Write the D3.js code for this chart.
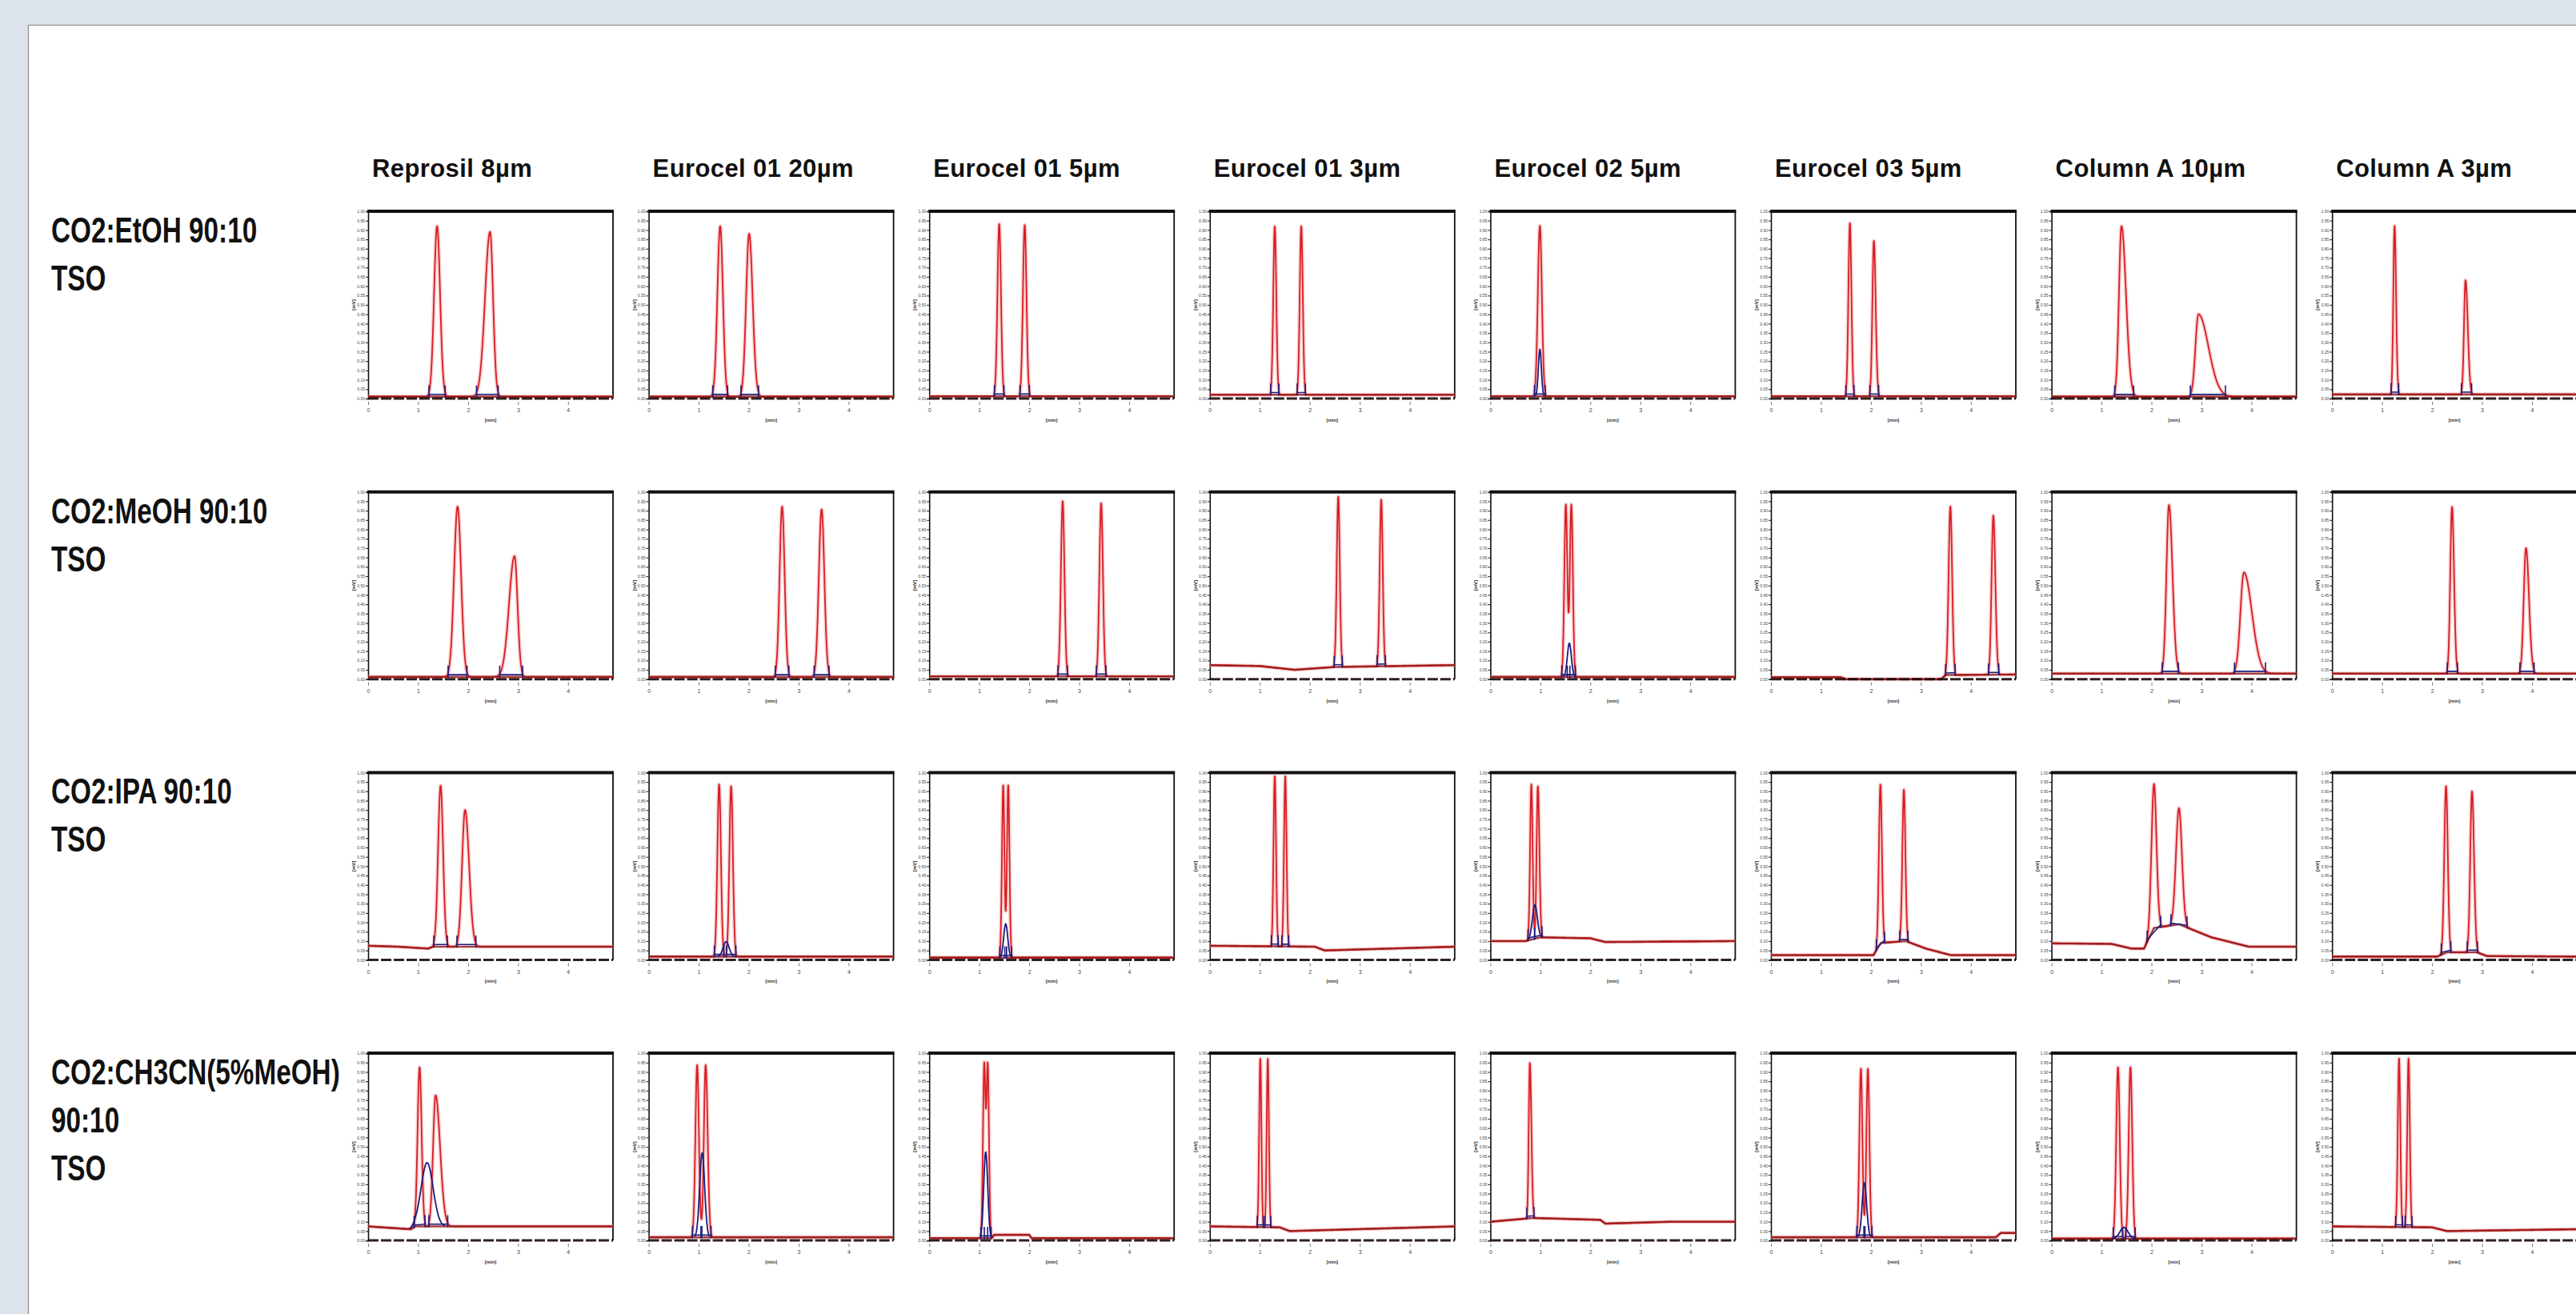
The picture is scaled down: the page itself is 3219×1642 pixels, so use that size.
<!DOCTYPE html>
<html><head><meta charset="utf-8">
<script src="https://cdn.jsdelivr.net/npm/d3@7"></script>
<style>html,body{margin:0;padding:0;overflow:hidden;background:#dde3ea;}</style>
</head><body>
<svg id="chart" width="3219" height="1642"></svg>
<script>
// ---------------- DATA ----------------
const columns = ["Reprosil 8µm","Eurocel 01 20µm","Eurocel 01 5µm","Eurocel 01 3µm","Eurocel 02 5µm","Eurocel 03 5µm","Column A 10µm","Column A 3µm"];
const rowLabels = [["CO2:EtOH 90:10","TSO"],["CO2:MeOH 90:10","TSO"],["CO2:IPA 90:10","TSO"],["CO2:CH3CN(5%MeOH)","90:10","TSO"]];
const xTicks = [0,1,2,3,4];
const yTicks = [0,0.05,0.1,0.15,0.2,0.25,0.3,0.35,0.4,0.45,0.5,0.55,0.6,0.65,0.7,0.75,0.8,0.85,0.9,0.95,1.0];
const xMax = 4.9;

// peaks: [retention time, height, left width, right width]
const peaksEtOH = [
  [[1.38,0.91,0.06,0.06],[2.44,0.88,0.10,0.06]],
  [[1.43,0.91,0.055,0.055],[2.01,0.87,0.06,0.07]],
  [[1.40,0.92,0.035,0.035],[1.91,0.915,0.035,0.035]],
  [[1.30,0.90,0.03,0.03],[1.83,0.90,0.03,0.03]],
  [[0.99,0.91,0.04,0.04]],
  [[1.58,0.925,0.03,0.03],[2.06,0.83,0.03,0.035]],
  [[1.40,0.91,0.05,0.09],[2.94,0.44,0.06,0.20]],
  [[1.25,0.90,0.025,0.03],[2.67,0.61,0.03,0.045]]
];
const peaksMeOH = [
  [[1.79,0.91,0.07,0.07],[2.93,0.645,0.11,0.06]],
  [[2.67,0.91,0.05,0.05],[3.46,0.895,0.055,0.055]],
  [[2.67,0.935,0.035,0.035],[3.44,0.925,0.035,0.035]],
  [[2.57,0.91,0.03,0.03],[3.43,0.89,0.03,0.03]],
  [[1.51,0.92,0.03,0.03],[1.62,0.92,0.03,0.03]],
  [[3.59,0.90,0.035,0.035],[4.45,0.85,0.035,0.04]],
  [[2.35,0.90,0.05,0.07],[3.85,0.54,0.07,0.16]],
  [[2.40,0.89,0.035,0.04],[3.88,0.67,0.045,0.06]]
];
const peaksIPA = [
  [[1.45,0.86,0.05,0.05],[1.94,0.73,0.06,0.08]],
  [[1.41,0.92,0.035,0.035],[1.65,0.91,0.035,0.035]],
  [[1.48,0.92,0.025,0.025],[1.58,0.92,0.025,0.025]],
  [[1.30,0.91,0.025,0.025],[1.51,0.91,0.025,0.025]],
  [[0.82,0.83,0.025,0.025],[0.95,0.81,0.025,0.03]],
  [[2.19,0.85,0.03,0.03],[2.66,0.81,0.03,0.03]],
  [[2.05,0.77,0.05,0.05],[2.55,0.62,0.06,0.06]],
  [[2.28,0.89,0.035,0.035],[2.80,0.86,0.035,0.04]]
];
const peaksCH3CN = [
  [[1.03,0.85,0.04,0.04],[1.35,0.70,0.05,0.09]],
  [[0.97,0.92,0.035,0.035],[1.14,0.92,0.035,0.04]],
  [[1.10,0.92,0.025,0.025],[1.17,0.92,0.025,0.025]],
  [[1.01,0.90,0.022,0.022],[1.16,0.90,0.022,0.022]],
  [[0.79,0.83,0.022,0.03]],
  [[1.80,0.90,0.03,0.03],[1.94,0.90,0.03,0.03]],
  [[1.33,0.915,0.035,0.035],[1.58,0.915,0.035,0.035]],
  [[1.34,0.90,0.025,0.025],[1.53,0.90,0.025,0.025]]
];

// baselines: [time, level]
const baseEtOH = [
  [[0,0.01],[4.9,0.01]], [[0,0.01],[4.9,0.01]], [[0,0.012],[4.9,0.012]], [[0,0.02],[4.9,0.02]],
  [[0,0.012],[4.9,0.012]], [[0,0.012],[4.9,0.012]], [[0,0.01],[4.9,0.01]], [[0,0.022],[4.9,0.022]]
];
const baseMeOH = [
  [[0,0.012],[4.9,0.012]], [[0,0.012],[4.9,0.012]], [[0,0.015],[4.9,0.015]],
  [[0,0.075],[1.0,0.07],[1.7,0.05],[2.5,0.065],[4.9,0.075]],
  [[0,0.012],[4.9,0.012]],
  [[0,0.01],[1.4,0.01],[1.5,0.0],[3.4,0.0],[3.5,0.022],[4.9,0.025]],
  [[0,0.03],[4.9,0.03]], [[0,0.03],[4.9,0.03]]
];
const baseIPA = [
  [[0,0.075],[0.6,0.07],[1.2,0.06],[1.3,0.07],[4.9,0.07]],
  [[0,0.017],[4.9,0.017]], [[0,0.012],[4.9,0.012]],
  [[0,0.075],[2.1,0.07],[2.3,0.05],[4.9,0.07]],
  [[0,0.10],[0.7,0.10],[1.0,0.12],[2.0,0.115],[2.3,0.095],[4.9,0.10]],
  [[0,0.025],[2.05,0.025],[2.2,0.09],[2.7,0.10],[3.1,0.06],[3.6,0.025],[4.9,0.025]],
  [[0,0.088],[1.2,0.085],[1.6,0.06],[1.85,0.06],[2.05,0.17],[2.55,0.19],[3.2,0.12],[3.95,0.07],[4.9,0.07]],
  [[0,0.017],[2.1,0.017],[2.3,0.04],[2.9,0.04],[3.1,0.02],[4.9,0.017]]
];
const baseCH3CN = [
  [[0,0.075],[0.85,0.06],[0.95,0.075],[4.9,0.075]],
  [[0,0.017],[4.9,0.017]],
  [[0,0.012],[1.25,0.012],[1.3,0.03],[2.0,0.03],[2.05,0.012],[4.9,0.012]],
  [[0,0.075],[1.4,0.07],[1.6,0.05],[4.9,0.075]],
  [[0,0.10],[0.85,0.12],[2.2,0.11],[2.3,0.09],[3.6,0.10],[4.9,0.10]],
  [[0,0.017],[4.5,0.017],[4.6,0.04],[4.9,0.04]],
  [[0,0.01],[4.9,0.01]],
  [[0,0.075],[2.0,0.07],[2.3,0.05],[4.9,0.06]]
];

// second (blue) detector trace peaks: [time, height, width]
const blueEtOH  = [[],[],[],[],[[0.99,0.25,0.03]],[],[],[]];
const blueMeOH  = [[],[],[],[],[[1.58,0.18,0.04]],[],[],[]];
const blueIPA   = [[],[[1.55,0.08,0.06]],[[1.53,0.18,0.04]],[],[[0.89,0.18,0.05]],[],[],[]];
const blueCH3CN = [[[1.18,0.34,0.12]],[[1.07,0.45,0.05]],[[1.13,0.46,0.04]],[],[],[[1.87,0.29,0.045]],[[1.45,0.06,0.08]],[]];

const peakRows = [peaksEtOH, peaksMeOH, peaksIPA, peaksCH3CN];
const baseRows = [baseEtOH, baseMeOH, baseIPA, baseCH3CN];
const blueRows = [blueEtOH, blueMeOH, blueIPA, blueCH3CN];

// ---------------- LAYOUT ----------------
const svg = d3.select("#chart");
const FONT = "'Liberation Sans', Arial, sans-serif";
const colX0 = 460, colStep = 350.6, rowY0 = 264, rowStep = 350.7, pw = 306, ph = 234;

svg.append("rect").attr("x",0).attr("y",0).attr("width",3219).attr("height",1642).attr("fill","#dde3ea");
svg.append("rect").attr("x",35.5).attr("y",31.5).attr("width",3400).attr("height",1700)
  .attr("fill","#ffffff").attr("stroke","#8c8c8c").attr("stroke-width",1.2);

// column titles
svg.selectAll("text.coltitle").data(columns).join("text")
  .attr("class","coltitle")
  .attr("x",(d,i)=>colX0 + i*colStep + 5)
  .attr("y",221)
  .attr("font-family",FONT).attr("font-weight","bold").attr("font-size",31)
  .attr("letter-spacing",0.4).attr("fill","#111")
  .text(d=>d);

// row labels
rowLabels.forEach((lines,r)=>{
  const top = rowY0 + r*rowStep;
  lines.forEach((ln,k)=>{
    svg.append("text")
      .attr("transform",`translate(64,${top+39+k*60}) scale(0.74,1)`)
      .attr("font-family",FONT).attr("font-weight","bold").attr("font-size",45)
      .attr("fill","#111").text(ln);
  });
});

function baseAt(b,t){
  for(let i=1;i<b.length;i++){
    if(t<=b[i][0]){const [xa,va]=b[i-1],[xb,vb]=b[i];return va+(vb-va)*(t-xa)/(xb-xa);}
  }
  return b[b.length-1][1];
}
function peakVal(p,t){const [c,h,sl,sr]=p;const s=t<c?sl:sr;return h*Math.exp(-0.5*((t-c)/s)*((t-c)/s));}

const grid = d3.range(0, xMax+1e-9, 0.003);
const defs = svg.append("defs");

for(let r=0;r<4;r++){
  for(let c=0;c<8;c++){
    const L = colX0 + c*colStep, T = rowY0 + r*rowStep;
    const x = d3.scaleLinear().domain([0,xMax]).range([L,L+pw]);
    const y = d3.scaleLinear().domain([0,1]).range([T+ph,T]);
    const g = svg.append("g");
    const cid = `clip${r}_${c}`;
    defs.append("clipPath").attr("id",cid).append("rect")
      .attr("x",L).attr("y",T).attr("width",pw).attr("height",ph+4);

    // x tick labels
    const xa = g.append("g").attr("transform",`translate(0,${T+ph+4})`)
      .call(d3.axisBottom(x).tickValues(xTicks).tickSize(4).tickFormat(d3.format("d")));
    xa.select(".domain").remove();
    xa.selectAll("line").attr("stroke","#555").attr("stroke-width",0.8);
    xa.selectAll("text").attr("font-size",7).attr("font-family",FONT).attr("fill","#444").attr("dy","0.9em");
    g.append("text").attr("x",L+pw/2).attr("y",T+ph+29).attr("text-anchor","middle")
      .attr("font-family",FONT).attr("font-size",6).attr("font-weight","bold").attr("fill","#333").text("[min]");

    // y axis
    const ya = g.append("g").attr("transform",`translate(${L},0)`)
      .call(d3.axisLeft(y).tickValues(yTicks).tickSize(3).tickFormat(d3.format(".2f")));
    ya.select(".domain").attr("stroke","#111").attr("stroke-width",1.6);
    ya.selectAll(".tick line").attr("stroke","#333").attr("stroke-width",1.2);
    ya.selectAll("text").attr("font-size",5).attr("font-family",FONT).attr("fill","#444").attr("x",-4);
    g.append("text").attr("transform",`translate(${L-16},${T+ph/2}) rotate(-90)`).attr("text-anchor","middle")
      .attr("font-family",FONT).attr("font-size",6).attr("font-weight","bold").attr("fill","#222").text("[mV]");

    // frame: top heavy, right thin
    g.append("line").attr("x1",L-1).attr("x2",L+pw+1).attr("y1",T).attr("y2",T)
      .attr("stroke","#111").attr("stroke-width",4);
    g.append("line").attr("x1",L+pw).attr("x2",L+pw).attr("y1",T).attr("y2",T+ph)
      .attr("stroke","#111").attr("stroke-width",1.8);

    const peaks = peakRows[r][c], base = baseRows[r][c], blues = blueRows[r][c];
    const pts = grid.map(t=>[t, baseAt(base,t) + d3.sum(peaks,p=>peakVal(p,t))]);
    const line = d3.line().x(d=>x(d[0])).y(d=>y(d[1]));
    const tg = g.append("g").attr("clip-path",`url(#${cid})`);
    tg.append("path").attr("d",line(pts)).attr("fill","none")
      .attr("stroke","#f29a9a").attr("stroke-width",5).attr("stroke-opacity",0.45).attr("stroke-linejoin","round");
    tg.append("path").attr("d",line(pts)).attr("fill","none")
      .attr("stroke","#d81d25").attr("stroke-width",1.8).attr("stroke-linejoin","round");
    // darker baseline core
    tg.append("path").attr("d",line(grid.map(t=>[t,baseAt(base,t)]))).attr("fill","none")
      .attr("stroke","#9a1a1a").attr("stroke-width",2.6).attr("stroke-opacity",0.85);

    // bottom axis (dashed heavy line) drawn over trace
    g.append("line").attr("x1",L).attr("x2",L+pw).attr("y1",T+ph).attr("y2",T+ph)
      .attr("stroke","#1a0808").attr("stroke-width",3).attr("stroke-dasharray","13,3").attr("stroke-opacity",0.9);

    // blue detector trace
    blues.forEach(bp=>{
      const [bc,bh,bs]=bp;
      const bpts = grid.filter(t=>t>=bc-3*bs && t<=bc+3*bs)
        .map(t=>[t, baseAt(base,t) + bh*Math.exp(-0.5*((t-bc)/bs)*((t-bc)/bs))]);
      tg.append("path").attr("d",line(bpts)).attr("fill","none")
        .attr("stroke","#1b1c7e").attr("stroke-width",1.8);
    });

    // integration marks
    peaks.forEach(p=>{
      const [pc,ph2,sl,sr]=p;
      const a = pc-2.7*sl, b = pc+2.7*sr;
      const ba = baseAt(base,a), bb = baseAt(base,b);
      tg.append("line").attr("x1",x(a)).attr("x2",x(b)).attr("y1",y(ba+0.012)).attr("y2",y(bb+0.012))
        .attr("stroke","#1b1c7e").attr("stroke-width",1.6);
      [[a,ba],[b,bb]].forEach(([t,v])=>{
        tg.append("line").attr("x1",x(t)).attr("x2",x(t)).attr("y1",y(v-0.005)).attr("y2",y(v+0.06))
          .attr("stroke","#1b1c7e").attr("stroke-width",1.6);
      });
    });
  }
}
</script>
</body></html>
